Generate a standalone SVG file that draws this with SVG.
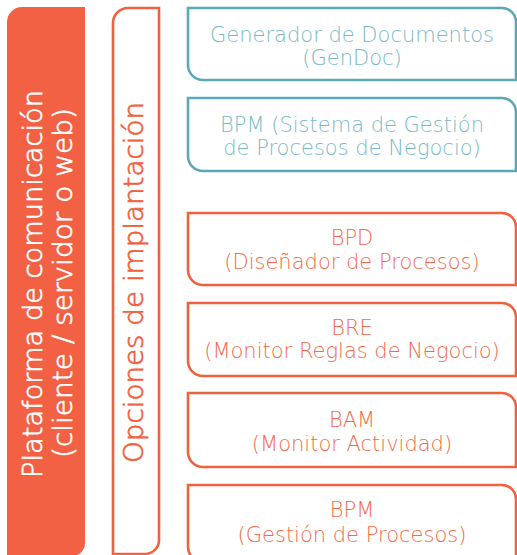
<svg xmlns="http://www.w3.org/2000/svg" width="517" height="555" viewBox="0 0 517 555">
<style>
.bo{fill:none;stroke:#F1603F;stroke-width:2.6}
.bt{fill:none;stroke:#5BA9B7;stroke-width:2.6}
.to{fill:#F26A4B;font-family:"DejaVu Sans",sans-serif;font-size:21px;font-weight:200;text-anchor:middle}
.tt{fill:#77BAC6;font-family:"DejaVu Sans",sans-serif;font-size:21px;font-weight:200;text-anchor:middle}
.tv{font-family:"DejaVu Sans",sans-serif;font-size:27px;font-weight:200;text-anchor:middle;stroke-width:0.7}
</style>
<rect width="517" height="555" fill="#ffffff"/>
<g id="plataforma">
<path d="M7,556 V22 A15,15 0 0 1 22,7 H85 V543 A13,13 0 0 1 72,556 Z" fill="#F26143"/>
<text class="tv" fill="#ffffff" stroke="#ffffff" transform="translate(42,284) rotate(-90)" textLength="388" lengthAdjust="spacingAndGlyphs">Plataforma de comunicación</text>
<text class="tv" fill="#ffffff" stroke="#ffffff" transform="translate(72,283) rotate(-90)" textLength="350" lengthAdjust="spacingAndGlyphs">(cliente / servidor o web)</text>
</g>
<g id="opciones">
<path class="bo" d="M113,560 V23 A15,15 0 0 1 128,8 H159 V540 A14,14 0 0 1 145,554 H113"/>
<text class="tv" fill="#F1603F" stroke="#F1603F" transform="translate(143,282.5) rotate(-90)" textLength="361" lengthAdjust="spacingAndGlyphs">Opciones de implantación</text>
</g>
<g id="gendoc">
<path class="bt" d="M188,8 H502 A14,14 0 0 1 516,22 V80 H203 A15,15 0 0 1 188,65 Z"/>
<text class="tt" x="352" y="42">Generador de Documentos</text>
<text class="tt" x="352" y="65">(GenDoc)</text>
</g>
<g id="bpm-sistema">
<path class="bt" d="M188,98 H502 A14,14 0 0 1 516,112 V171 H203 A15,15 0 0 1 188,156 Z"/>
<text class="tt" x="352" y="132">BPM (Sistema de Gestión</text>
<text class="tt" x="352" y="155">de Procesos de Negocio)</text>
</g>
<g id="bpd">
<path class="bo" d="M188,213 H502 A14,14 0 0 1 516,227 V285 H203 A15,15 0 0 1 188,270 Z"/>
<text class="to" x="352" y="245">BPD</text>
<text class="to" x="352" y="269">(Diseñador de Procesos)</text>
</g>
<g id="bre">
<path class="bo" d="M188,303 H502 A14,14 0 0 1 516,317 V376 H203 A15,15 0 0 1 188,361 Z"/>
<text class="to" x="352" y="335">BRE</text>
<text class="to" x="352" y="358">(Monitor Reglas de Negocio)</text>
</g>
<g id="bam">
<path class="bo" d="M188,393 H502 A14,14 0 0 1 516,407 V467 H203 A15,15 0 0 1 188,452 Z"/>
<text class="to" x="352" y="427">BAM</text>
<text class="to" x="352" y="451">(Monitor Actividad)</text>
</g>
<g id="bpm-gestion">
<path class="bo" d="M188,485 H502 A14,14 0 0 1 516,499 V562 H203 A15,15 0 0 1 188,547 Z"/>
<text class="to" x="352" y="517">BPM</text>
<text class="to" x="352" y="542">(Gestión de Procesos)</text>
</g>
<g id="connectors"></g>
</svg>
